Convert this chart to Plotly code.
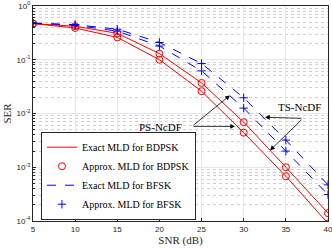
import plotly.graph_objects as go

snr = [5, 10, 15, 20, 25, 30, 35, 40]
bdpsk_ts = [0.47, 0.42, 0.31, 0.13, 0.037, 0.0069, 0.0010, 0.00014]
bdpsk_ps = [0.47, 0.39, 0.26, 0.10, 0.026, 0.0044, 0.00068, 0.00009]
bfsk_ts = [0.48, 0.45, 0.37, 0.21, 0.085, 0.0196, 0.0032, 0.00047]
bfsk_ps = [0.48, 0.44, 0.34, 0.18, 0.062, 0.0126, 0.0020, 0.00031]

x_ticks = [5, 10, 15, 20, 25, 30, 35, 40]
y_ticks = [1e-4, 1e-3, 1e-2, 1e-1, 1]
y_ticktext = ["10<sup>-4</sup>", "10<sup>-3</sup>", "10<sup>-2</sup>", "10<sup>-1</sup>", "10<sup>0</sup>"]
legend_names = ["Exact MLD for BDPSK", "Approx. MLD for BDPSK", "Exact MLD for BFSK", "Approx. MLD for BFSK"]

RED = "#ff0000"
BLUE = "#0000ff"
SERIF = "Liberation Serif"
SANS = "Liberation Sans"

fig = go.Figure()
for i, ys in enumerate([bdpsk_ts, bdpsk_ps]):
    fig.add_trace(go.Scatter(x=snr, y=ys, mode="lines", line=dict(color=RED, width=1),
                             name=legend_names[0], legendgroup="a", showlegend=(i == 0)))
for i, ys in enumerate([bdpsk_ts, bdpsk_ps]):
    fig.add_trace(go.Scatter(x=snr, y=ys, mode="markers",
                             marker=dict(symbol="circle-open", size=7, color=RED, line=dict(width=1)),
                             name=legend_names[1], legendgroup="b", showlegend=(i == 0)))
for i, ys in enumerate([bfsk_ts, bfsk_ps]):
    fig.add_trace(go.Scatter(x=snr, y=ys, mode="lines", line=dict(color=BLUE, width=1, dash="dash"),
                             name=legend_names[2], legendgroup="c", showlegend=(i == 0)))
for i, ys in enumerate([bfsk_ts, bfsk_ps]):
    fig.add_trace(go.Scatter(x=snr, y=ys, mode="markers",
                             marker=dict(symbol="cross-thin-open", size=6, color=BLUE, line=dict(width=1, color=BLUE)),
                             name=legend_names[3], legendgroup="d", showlegend=(i == 0)))

# annotation text and arrows
def arrow(tx, ty, hx, hy):
    fig.add_annotation(x=hx, y=hy, ax=tx, ay=ty, xref="x", yref="y", axref="x", ayref="y",
                       text="", showarrow=True, arrowhead=2, arrowsize=1.2, arrowwidth=0.8,
                       arrowcolor="black", standoff=0, startstandoff=0)

fig.add_annotation(x=20.07, y=-2.26, xref="x", yref="y", text="PS-NcDF", showarrow=False,
                   font=dict(family=SERIF, size=11, color="black"))
arrow(23.86, -2.24, 28.37, -1.663)
arrow(23.86, -2.24, 28.97, -2.24)
fig.add_annotation(x=36.56, y=-1.886, xref="x", yref="y", text="TS-NcDF", showarrow=False,
                   font=dict(family=SERIF, size=11, color="black"))
arrow(37.03, -2.09, 32.52, -2.07)
arrow(37.03, -2.09, 33.12, -2.687)

axis_common = dict(showline=True, mirror=True, linecolor="#262626", linewidth=1,
                   ticks="inside", ticklen=3, tickcolor="#262626",
                   gridcolor="#e6e6e6", gridwidth=1, zeroline=False,
                   ticklabeloverflow="allow",
                   tickfont=dict(family=SANS, size=8, color="#262626"))

fig.update_xaxes(range=[5, 40], tickvals=x_ticks, title=dict(text="SNR (dB)", standoff=2,
                 font=dict(family=SERIF, size=11, color="#262626")), **axis_common)
fig.update_yaxes(type="log", range=[-4, 0], tickvals=y_ticks, ticktext=y_ticktext,
                 title=dict(text="SER", standoff=2, font=dict(family=SERIF, size=11, color="#262626")),
                 minor=dict(dtick="D1", showgrid=True, griddash="dot", gridcolor="#d0d0d0",
                            ticks="inside", ticklen=2, tickcolor="#262626"),
                 **axis_common)

fig.update_layout(
    width=332, height=249,
    margin=dict(l=33, r=4, t=6, b=28, autoexpand=False),
    plot_bgcolor="white", paper_bgcolor="white",
    legend=dict(x=0.027, y=0.006, xanchor="left", yanchor="bottom",
                bgcolor="white", bordercolor="#262626", borderwidth=1,
                font=dict(family=SERIF, size=10, color="black"),
                tracegroupgap=0, itemwidth=30),
)

fig.write_html("out.html", config={"displayModeBar": False})

# remove default page margin so the figure sits at the window's top-left corner
with open("out.html", "r", encoding="utf-8") as f:
    html = f.read()
html = html.replace("<body>", '<body style="margin:0;padding:0;overflow:hidden">', 1)
with open("out.html", "w", encoding="utf-8") as f:
    f.write(html)
